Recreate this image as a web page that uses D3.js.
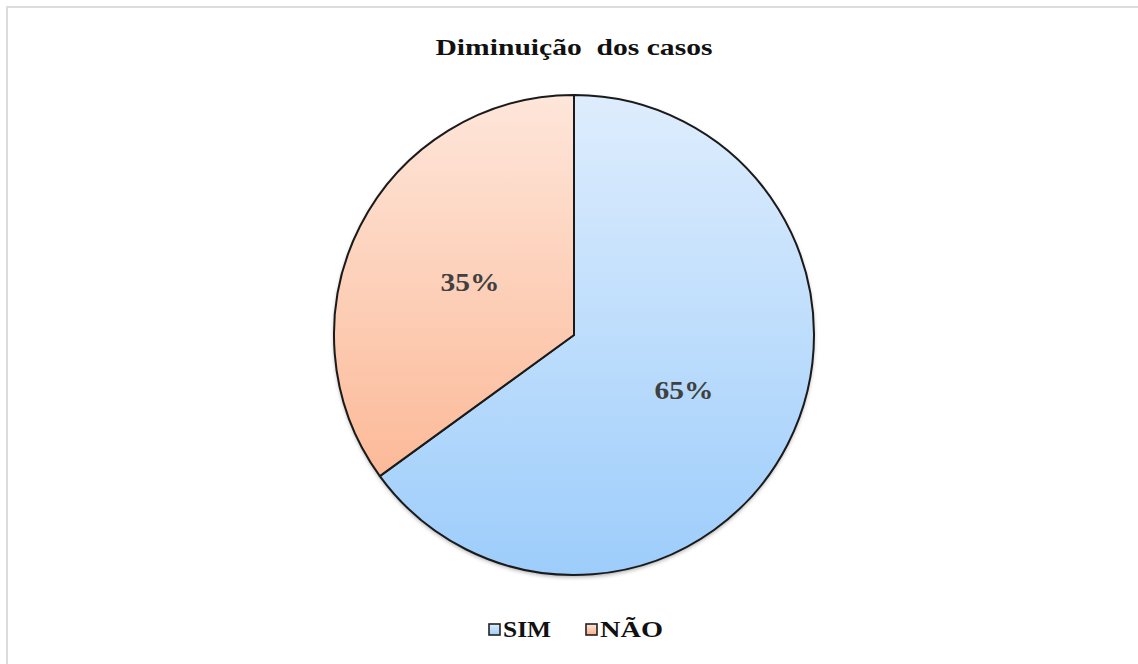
<!DOCTYPE html>
<html>
<head>
<meta charset="utf-8">
<script src="https://cdn.jsdelivr.net/npm/d3@7"></script>
<style>
  body { margin: 0; background: #fff; }
</style>
</head>
<body>
<svg id="chart" width="1138" height="664"></svg>
<script>
// data
const categories = ["SIM", "NÃO"];
const values = [65, 35];
const labels = ["65%", "35%"];
const title = "Diminuição  dos casos";

const gradStops = {
  "SIM": ["#deedfd", "#9dcdfb"],
  "NÃO": ["#fee6da", "#fbae87"]
};

const FONT = "'Liberation Serif', 'Times New Roman', 'DejaVu Serif', serif";
const width = 1138, height = 664;
const cx = 574, cy = 335, radius = 240;

const svg = d3.select("#chart");
const defs = svg.append("defs");

categories.forEach((c, i) => {
  const g = defs.append("linearGradient")
    .attr("id", `grad-${i}`)
    .attr("gradientUnits", "userSpaceOnUse")
    .attr("x1", 0).attr("y1", cy - radius)
    .attr("x2", 0).attr("y2", cy + radius);
  g.append("stop").attr("offset", "0%").attr("stop-color", gradStops[c][0]);
  g.append("stop").attr("offset", "100%").attr("stop-color", gradStops[c][1]);

  const s = defs.append("linearGradient")
    .attr("id", `swatch-${i}`)
    .attr("x1", 0).attr("y1", 0).attr("x2", 0).attr("y2", 1);
  s.append("stop").attr("offset", "0%").attr("stop-color", gradStops[c][0]);
  s.append("stop").attr("offset", "100%").attr("stop-color", gradStops[c][1]);
});

const shadow = defs.append("filter").attr("id", "shadow")
  .attr("x", "-10%").attr("y", "-10%").attr("width", "120%").attr("height", "120%");
shadow.append("feDropShadow")
  .attr("dx", 0).attr("dy", 2).attr("stdDeviation", 2)
  .attr("flood-color", "#000").attr("flood-opacity", 0.35);

// outer frame
svg.append("rect")
  .attr("x", 7).attr("y", 7)
  .attr("width", width).attr("height", height)
  .attr("fill", "#fff")
  .attr("stroke", "#dcdcdc").attr("stroke-width", 2);

svg.append("text")
  .attr("x", cx).attr("y", 55)
  .attr("text-anchor", "middle")
  .attr("font-family", FONT)
  .attr("font-weight", "bold")
  .attr("font-size", 23)
  .attr("textLength", 277)
  .attr("lengthAdjust", "spacingAndGlyphs")
  .attr("fill", "#111")
  .attr("xml:space", "preserve")
  .text(title);

const pie = d3.pie().sort(null).value(d => d);
const arcs = pie(values);
const labelArc = d3.arc().innerRadius(radius * 0.5).outerRadius(radius * 0.5);

svg.append("circle")
  .attr("cx", cx).attr("cy", cy).attr("r", radius)
  .attr("fill", "#fff").attr("filter", "url(#shadow)");

// slices drawn in page coordinates so the gradient spans the whole pie
svg.append("g")
  .selectAll("path")
  .data(arcs)
  .join("path")
  .attr("d", d => {
    const p = d3.path();
    const a0 = d.startAngle - Math.PI / 2, a1 = d.endAngle - Math.PI / 2;
    p.moveTo(cx, cy);
    p.lineTo(cx + radius * Math.cos(a0), cy + radius * Math.sin(a0));
    p.arc(cx, cy, radius, a0, a1);
    p.closePath();
    return p.toString();
  })
  .attr("fill", (d, i) => `url(#grad-${i})`)
  .attr("stroke", "#1a1a1a")
  .attr("stroke-width", 2)
  .attr("stroke-linejoin", "round");

svg.append("g")
  .selectAll("text")
  .data(arcs)
  .join("text")
  .attr("x", d => cx + labelArc.centroid(d)[0] + 3)
  .attr("y", d => cy + labelArc.centroid(d)[1] + 10)
  .attr("text-anchor", "middle")
  .attr("font-family", FONT)
  .attr("font-weight", "bold")
  .attr("font-size", 26)
  .attr("textLength", 59)
  .attr("lengthAdjust", "spacingAndGlyphs")
  .attr("fill", "#404040")
  .text((d, i) => labels[i]);

// legend
const legendX = [488, 585];
const legendW = [48, 63];
const legend = svg.append("g");
categories.forEach((c, i) => {
  const lg = legend.append("g").attr("transform", `translate(${legendX[i]},637)`);
  lg.append("rect")
    .attr("x", 1).attr("y", -13)
    .attr("width", 11).attr("height", 11)
    .attr("fill", `url(#swatch-${i})`)
    .attr("stroke", "#222").attr("stroke-width", 1.6);
  lg.append("text")
    .attr("x", 15).attr("y", 0)
    .attr("font-family", FONT)
    .attr("font-weight", "bold")
    .attr("font-size", 24)
    .attr("textLength", legendW[i])
    .attr("lengthAdjust", "spacingAndGlyphs")
    .attr("fill", "#111")
    .text(c);
});
</script>
</body>
</html>
